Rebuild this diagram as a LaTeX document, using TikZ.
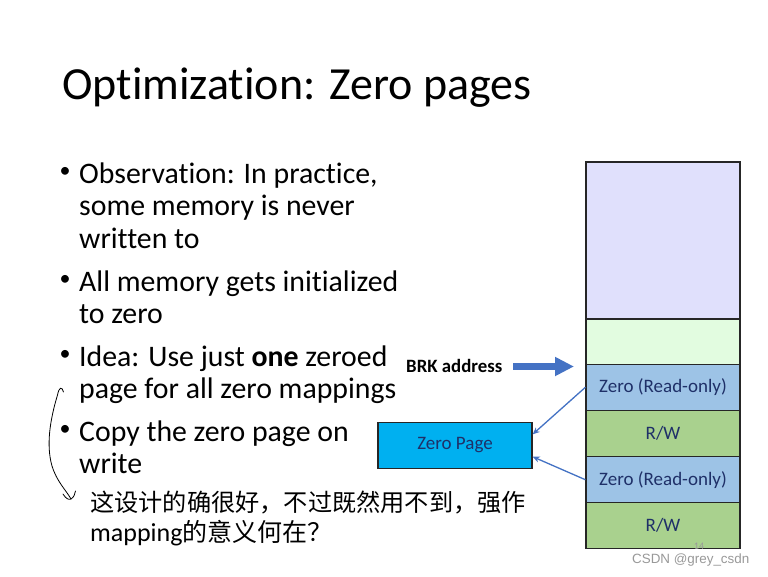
\documentclass[tikz,border=0pt]{standalone}
\usepackage{fontspec}
\setmainfont{Carlito}[Ligatures={NoCommon}]
\newfontfamily\cjk{Noto Sans CJK SC}
\newfontfamily\wmfont{Liberation Sans}
\usetikzlibrary{arrows.meta,calc}
\definecolor{lav}{HTML}{E0E0FC}
\definecolor{lgreen}{HTML}{E2FCE0}
\definecolor{zblue}{HTML}{9DC3E6}
\definecolor{rwgreen}{HTML}{A9D18E}
\definecolor{zpage}{HTML}{00B0F0}
\definecolor{navy}{HTML}{1F3068}
\definecolor{arrowblue}{HTML}{4472C4}
\definecolor{cellborder}{HTML}{262626}
\begin{document}
\begin{tikzpicture}[x=1pt,y=-1pt,
  titletext/.style={anchor=base west,inner sep=0pt,font=\fontsize{46}{50}\selectfont},
  bodytext/.style={anchor=base west,inner sep=0pt,font=\fontsize{29.8}{32}\selectfont},
  bulletmark/.style={anchor=center,inner sep=0pt,font=\fontsize{22}{24}\selectfont},
  cell/.style={draw=cellborder,line width=1.3pt,minimum width=154pt,inner sep=0pt,
     text=navy,font=\fontsize{19}{20}\selectfont},
  thinarrow/.style={draw=arrowblue,line width=1.3pt,-{Stealth[length=7pt,width=6pt]}},
  hand/.style={line width=0.8pt,black,line cap=round,line join=round}]
\fill[white] (0,0) rectangle (768,576);
\useasboundingbox (0,0) rectangle (768,576);

% title
\node[titletext] (title) at (62,99) {Optimization: Zero pages};

% bullets
\node[bulletmark] (b1) at (65,172.5) {•};
\node[bodytext] (l1) at (79,183) {Observation: In practice,};
\node[bodytext] (l2) at (79,215.5) {some memory is never};
\node[bodytext] (l3) at (79,248) {written to};
\node[bulletmark] (b2) at (65,280.5) {•};
\node[bodytext] (l4) at (79,291) {All memory gets initialized};
\node[bodytext] (l5) at (79,323.5) {to zero};
\node[bulletmark] (b3) at (65,355.5) {•};
\node[bodytext] (l6) at (79,366) {Idea: Use just \textbf{one} zeroed};
\node[bodytext] (l7) at (79,398.5) {page for all zero mappings};
\node[bulletmark] (b4) at (65,430.5) {•};
\node[bodytext] (l8) at (79,441) {Copy the zero page on};
\node[bodytext] (l9) at (79,473.5) {write};

% memory stack
\node[cell,fill=lav,minimum height=157pt] (s1) at (663,240.5) {};
\node[cell,fill=lgreen,minimum height=45.3pt] (s2) at (663,341.65) {};
\node[cell,fill=zblue,minimum height=46pt] (s3) at (663,387.3) {Zero (Read-only)};
\node[cell,fill=rwgreen,minimum height=46.4pt] (s4) at (663,433.5) {R/W};
\node[cell,fill=zblue,minimum height=46pt] (s5) at (663,479.7) {Zero (Read-only)};
\node[cell,fill=rwgreen,minimum height=45.6pt] (s6) at (663,525.5) {R/W};

% zero page
\node[cell,fill=zpage,minimum height=45.6pt] (zp) at (455,445.5) {Zero Page};

% BRK address
\node[anchor=base west,inner sep=0pt,font=\fontsize{18.8}{20}\selectfont\bfseries] (brk) at (406,372) {BRK address};
\coordinate (brkstart) at (513,366.5);
\coordinate (brkend) at (574,366.5);
\draw[arrowblue,line width=6.7pt,-{Triangle[length=19pt,width=18pt]}] (brkstart) -- (brkend);

% thin arrows
\draw[thinarrow] (s3.west) -- ([yshift=11.2pt]zp.east);
\draw[thinarrow] (s5.west) -- ([yshift=-11.2pt]zp.east);

% handwritten note
\draw[hand] (63.5,392) .. controls (62,386) and (59,387) .. (57.5,395)
  .. controls (50,420) and (46,445) .. (52,466)
  .. controls (57,482) and (66,490) .. (71,499);
\draw[hand] (63,494) .. controls (66,499) and (69,500) .. (71,499)
  .. controls (74,497) and (75,494) .. (75.5,491);
\node[anchor=base west,inner sep=0pt,font=\cjk\fontsize{24.2}{26}\selectfont] (note1) at (90,511) {这设计的确很好，不过既然用不到，强作};
\node[anchor=base west,inner sep=0pt,font=\fontsize{26}{28}\selectfont] (note2) at (90,541) {mapping{\cjk\fontsize{25}{27}\selectfont 的意义何在？}};

% page number and watermark
\node[anchor=base,inner sep=0pt,text=gray!80,font=\fontsize{10}{11}\selectfont] (pnum) at (699,549.5) {14};
\node[anchor=base west,inner sep=0pt,text=black!40,font=\wmfont\fontsize{13.4}{14}\selectfont] (wm) at (632,563.5) {CSDN @grey\_csdn};
\end{tikzpicture}
\end{document}
